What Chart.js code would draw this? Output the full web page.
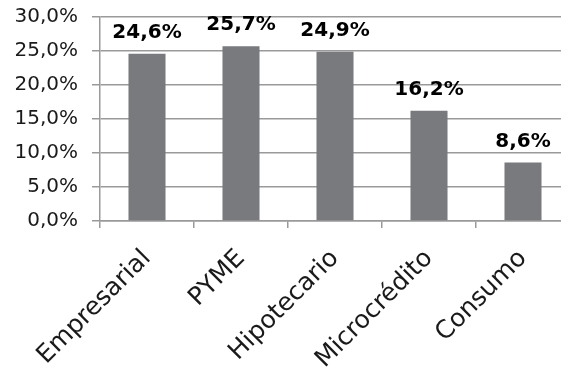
<!DOCTYPE html>
<html>
<head>
<meta charset="utf-8">
<script src="https://cdn.jsdelivr.net/npm/chart.js@4"></script>
<style>
  html, body { margin: 0; padding: 0; background: #fff; overflow: hidden; }
  #wrap { position: relative; width: 574px; height: 373px; }
</style>
</head>
<body>
<div id="wrap"><canvas id="chart" width="574" height="373"></canvas></div>
<script>
// ============================
// Data
// ============================
const categories = ['Empresarial', 'PYME', 'Hipotecario', 'Microcrédito', 'Consumo'];
const shares     = [24.6, 25.7, 24.9, 16.2, 8.6];
const yTicks     = [0, 5, 10, 15, 20, 25, 30];

const GRID_GRAY = '#9a9a9a';
const BAR_GRAY  = '#797a7e';

// 24.6 -> "24,6%"
function pct(v) {
    return v.toFixed(1).replace('.', ',') + '%';
}

// ============================
// Value labels above each bar
// ============================
const barValueLabels = {
    id: 'barValueLabels',
    afterDatasetsDraw(chart) {
        const ctx = chart.ctx;
        const meta = chart.getDatasetMeta(0);
        ctx.save();
        ctx.font = 'bold 20px "DejaVu Sans"';
        ctx.fillStyle = '#000';
        ctx.textAlign = 'center';
        ctx.textBaseline = 'alphabetic';
        meta.data.forEach((bar, i) => {
            ctx.fillText(pct(shares[i]), bar.x, bar.y - 16);
        });
        ctx.restore();
    }
};

// ============================
// Chart
// ============================
const ctx = document.getElementById('chart').getContext('2d');

new Chart(ctx, {
    type: 'bar',
    data: {
        labels: categories,
        datasets: [{
            data: shares,
            backgroundColor: BAR_GRAY,
            borderWidth: 0,
            barPercentage: 0.394,
            categoryPercentage: 1
        }]
    },
    options: {
        responsive: false,
        animation: false,
        layout: { padding: { top: 17, right: 4, bottom: 0, left: 0 } },
        plugins: {
            legend: { display: false },
            tooltip: { enabled: false }
        },
        scales: {
            x: {
                offset: true,
                grid: {
                    offset: true,
                    drawOnChartArea: false,
                    drawTicks: true,
                    tickLength: 7,
                    color: GRID_GRAY,
                    lineWidth: 1.5
                },
                border: { display: true, color: GRID_GRAY, width: 1.5 },
                ticks: {
                    minRotation: 45,
                    maxRotation: 45,
                    padding: 16,
                    color: '#1a1a1a',
                    font: { family: '"DejaVu Sans"', size: 25 }
                },
                afterFit(scale) {
                    scale.height = 152;
                    scale.paddingLeft = 0;
                    scale.paddingRight = 0;
                }
            },
            y: {
                min: 0,
                max: 30,
                afterBuildTicks(scale) {
                    scale.ticks = yTicks.map(v => ({ value: v }));
                },
                grid: {
                    color: GRID_GRAY,
                    lineWidth: 1.5,
                    tickLength: 8
                },
                border: { display: true, color: GRID_GRAY, width: 1.5 },
                ticks: {
                    padding: 14,
                    color: '#1a1a1a',
                    font: { family: '"DejaVu Sans"', size: 20 },
                    callback: (v) => pct(v)
                },
                afterFit(scale) {
                    // keep the top gridline at the layout padding
                    scale.width = 100;
                    scale.paddingTop = 0;
                    scale.paddingBottom = 0;
                }
            }
        }
    },
    plugins: [barValueLabels]
});
</script>
</body>
</html>
